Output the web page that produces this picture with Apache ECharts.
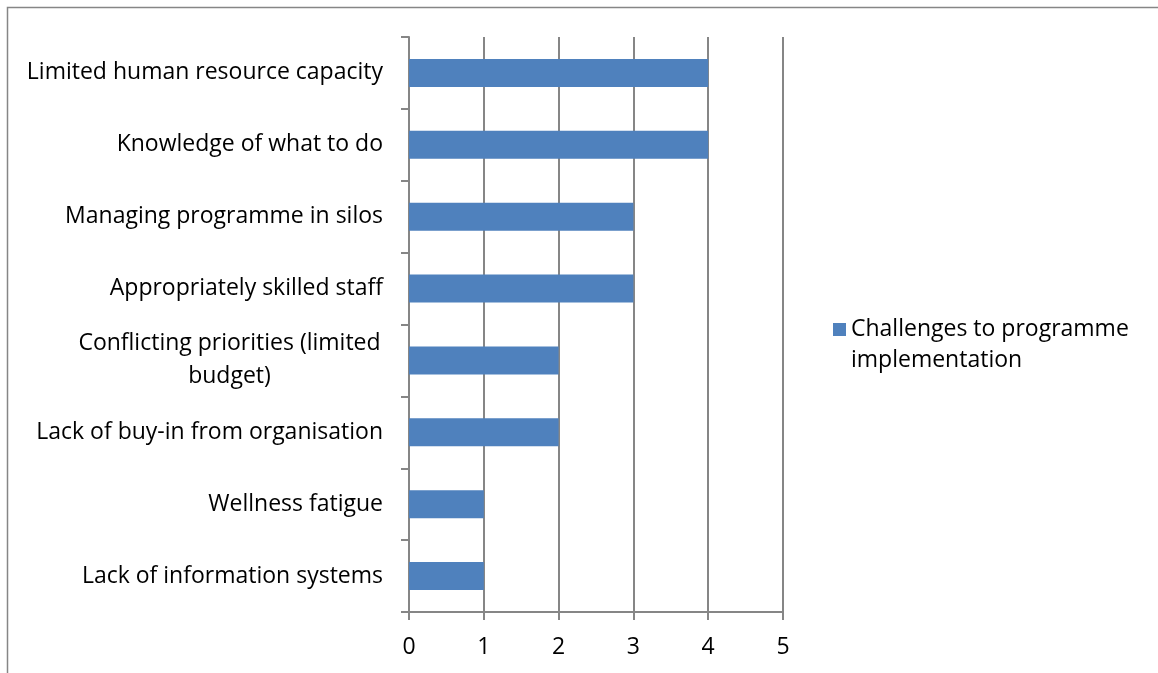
<!DOCTYPE html>
<html>
<head>
<meta charset="utf-8">
<script src="https://cdn.jsdelivr.net/npm/echarts@6/dist/echarts.min.js"></script>
<style>
html,body{margin:0;padding:0;background:#fff;}
#chart{width:1158px;height:673px;}
</style>
</head>
<body>
<div id="chart"></div>
<script>
const categories = [
  "Limited human resource capacity",
  "Knowledge of what to do",
  "Managing programme in silos",
  "Appropriately skilled staff",
  "Conflicting priorities (limited\nbudget)",
  "Lack of buy-in from organisation",
  "Wellness fatigue",
  "Lack of information systems"
];
const values = [4, 4, 3, 3, 2, 2, 1, 1];
const seriesName = "Challenges to programme implementation";
const xTicks = [0, 1, 2, 3, 4, 5];

const FONT = "'Open Sans', sans-serif";
const FS = 23;
const chart = echarts.init(document.getElementById('chart'), null, {renderer: 'canvas'});
chart.setOption({
  animation: false,
  textStyle: {fontFamily: FONT},
  graphic: [{
    type: 'rect',
    shape: {x: 7.5, y: 7.5, width: 3000, height: 3000},
    style: {fill: 'none', stroke: '#868686', lineWidth: 1.5},
    silent: true, z: -10
  }],
  grid: {left: 409, right: 375, top: 37, bottom: 61, containLabel: false},
  legend: {
    left: 828, top: 309,
    itemWidth: 13, itemHeight: 44, itemGap: 0,
    icon: 'path://M0,0H13V13H0Z M0,44L0.01,44',
    data: [seriesName],
    formatter: function(){ return 'Challenges to programme\nimplementation'; },
    textStyle: {fontFamily: FONT, fontSize: FS, color: '#000', lineHeight: 31}
  },
  xAxis: {
    type: 'value', min: xTicks[0], max: xTicks[xTicks.length - 1], interval: 1,
    axisLine: {show: true, lineStyle: {color: '#868686', width: 2}},
    axisTick: {show: true, length: 8, lineStyle: {color: '#868686', width: 2}},
    splitLine: {show: true, lineStyle: {color: '#868686', width: 2}},
    axisLabel: {fontFamily: FONT, fontSize: FS, color: '#000', margin: 24}
  },
  yAxis: {
    type: 'category', data: categories, inverse: true,
    axisLine: {show: true, lineStyle: {color: '#868686', width: 2}},
    axisTick: {show: true, length: 8, lineStyle: {color: '#868686', width: 2}},
    splitLine: {show: false},
    axisLabel: {
      fontFamily: FONT, fontSize: FS, color: '#000', margin: 26, lineHeight: 33,
      formatter: function(v){
        if (v.indexOf('\n') >= 0) return v.split('\n').map(s => '{c|' + s + '}').join('\n');
        return v;
      },
      rich: {c: {fontFamily: FONT, fontSize: FS, color: '#000', align: 'center', width: 307, lineHeight: 33}}
    }
  },
  series: [{
    name: seriesName, type: 'bar', data: values,
    barWidth: '39%',
    itemStyle: {color: '#4F81BD'}
  }]
});
</script>
</body>
</html>
